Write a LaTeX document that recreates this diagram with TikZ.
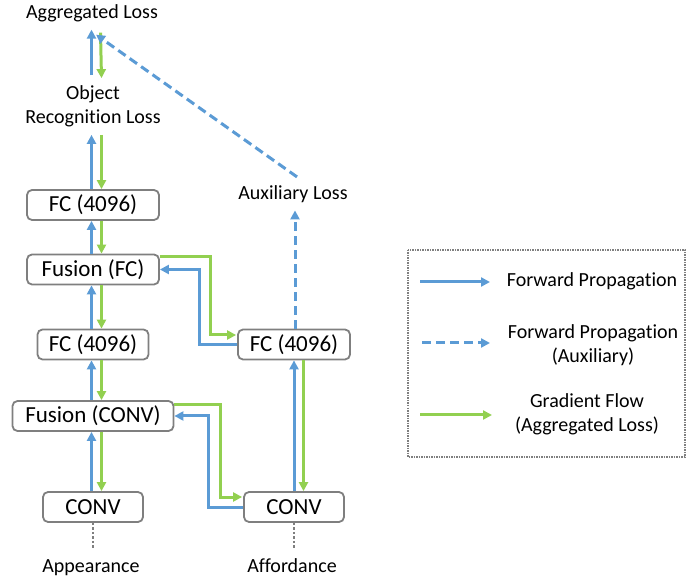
\documentclass[tikz,border=0pt]{standalone}
\usepackage{fontspec}
\setmainfont{Carlito}[Ligatures={NoCommon}]
\usetikzlibrary{arrows.meta,calc}
\definecolor{fwdblue}{HTML}{5B9BD5}
\definecolor{gradgreen}{HTML}{92D050}
\definecolor{boxgray}{HTML}{7F7F7F}

\begin{document}
\begin{tikzpicture}[x=1pt,y=-1pt,
  font=\fontsize{20}{24}\selectfont,
  layer/.style={draw=boxgray, line width=1.8pt, rounded corners=5pt, fill=white,
    inner sep=0pt, minimum height=30pt, font=\fontsize{23}{27}\selectfont},
  lbl/.style={inner sep=0pt, align=center},
  fwd/.style={draw=fwdblue, line width=3pt, -{Triangle[length=9pt,width=9pt]}},
  aux/.style={fwd, dash pattern=on 9pt off 5pt},
  grad/.style={draw=gradgreen, line width=3pt, -{Triangle[length=9pt,width=9pt]}},
  feed/.style={draw=boxgray, line width=2.5pt, dash pattern=on 2.5pt off 2pt},
  legendframe/.style={draw=boxgray, line width=1.5pt, dash pattern=on 1.5pt off 1pt}
]
\useasboundingbox (0,0) rectangle (686,577);

% ---- appearance stream (left) ----
\node[layer, minimum width=132pt] (fcA)   at (93,205)   {FC (4096)};
\node[layer, minimum width=132pt] (fusF)  at (93,269.5) {Fusion (FC)};
\node[layer, minimum width=111pt] (fcB)   at (93,344.5) {FC (4096)};
\node[layer, minimum width=161pt] (fusC)  at (93,416)   {Fusion (CONV)};
\node[layer, minimum width=100pt] (convL) at (93,507)   {CONV};

% ---- affordance stream (right) ----
\node[layer, minimum width=112pt] (fcR)   at (294,344.5) {FC (4096)};
\node[layer, minimum width=100pt] (convR) at (294,507)   {CONV};

% ---- losses and inputs ----
\node[lbl, anchor=base] (agg) at (92,19)  {Aggregated Loss};
\node[lbl] (orl) at (93,106) {Object\\Recognition Loss};
\node[lbl, anchor=base] (auxl) at (293,200) {Auxiliary Loss};
\node[lbl, anchor=base] (app) at (91,572)  {Appearance};
\node[lbl, anchor=base] (aff) at (292,572) {Affordance};

% inputs feeding the CONV layers
\draw[feed] (convL.south) -- ([yshift=10pt]convL.south |- app.north);
\draw[feed] (convR.south) -- ([yshift=10pt]convR.south |- aff.north);

% ---- left column: forward (blue) and gradient (green) ----
\draw[fwd]  ([xshift=-1.5pt]convL.north) -- ([xshift=-1.5pt]convL.north |- fusC.south);
\draw[grad] ([xshift=8.5pt]fusC.south)   -- ([xshift=8.5pt]fusC.south |- convL.north);
\draw[fwd]  ([xshift=-1.5pt]fusC.north)  -- ([xshift=-1.5pt]fusC.north |- fcB.south);
\draw[grad] ([xshift=8.5pt]fcB.south)    -- ([xshift=8.5pt]fcB.south |- fusC.north);
\draw[fwd]  ([xshift=-1.5pt]fcB.north)   -- ([xshift=-1.5pt]fcB.north |- fusF.south);
\draw[grad] ([xshift=8.5pt]fusF.south)   -- ([xshift=8.5pt]fusF.south |- fcB.north);
\draw[fwd]  ([xshift=-1.5pt]fusF.north)  -- ([xshift=-1.5pt]fusF.north |- fcA.south);
\draw[grad] ([xshift=8.5pt]fcA.south)    -- ([xshift=8.5pt]fcA.south |- fusF.north);
\draw[fwd]  ([xshift=-1.5pt]fcA.north)   -- ([xshift=-1.5pt,yshift=-8pt]fcA.north |- orl.south);
\draw[grad] ([xshift=8.5pt,yshift=-8pt]fcA.north |- orl.south) -- ([xshift=8.5pt]fcA.north);
\draw[fwd]  ([xshift=-1.5pt,yshift=10pt]orl.north) -- ([xshift=-0.5pt,yshift=-7pt]agg.south);
\draw[grad] ([xshift=8.5pt,yshift=-10pt]agg.south) -- ([xshift=8.5pt,yshift=7pt]orl.north);

% ---- right column ----
\draw[fwd]  (convR.north) -- (convR.north |- fcR.south);
\draw[grad] ([xshift=9.5pt]fcR.south) -- ([xshift=9.5pt]fcR.south |- convR.north);
\draw[aux]  ([xshift=1pt]fcR.north) -- ([xshift=1pt,yshift=-7pt]fcR.north |- auxl.south);
\draw[aux]  ([xshift=4pt,yshift=9pt]auxl.north) -- ([xshift=4pt,yshift=-12pt]agg.south);

% ---- cross connections ----
\draw[grad] ([yshift=12.5pt]fusF.east) -- ++(51,0) |- ([xshift=-1pt,yshift=9.5pt]fcR.west);
\draw[fwd]  (fcR.west) -- ++(-38,0) |- (fusF.east);
\draw[grad] ([yshift=11pt]fusC.east) -- ++(46,0) |- ([xshift=-1pt,yshift=10pt]convR.west);
\draw[fwd]  (convR.west) -- ++(-35,0) |- (fusC.east);

% ---- legend ----
\draw[legendframe] (408,250) rectangle (685,457);
\coordinate (k1a) at (420,282); \coordinate (k1b) at (490,282);
\coordinate (k2a) at (422,343); \coordinate (k2b) at (490,343);
\coordinate (k3a) at (420,415); \coordinate (k3b) at (492,415);
\draw[fwd]  (k1a) -- (k1b);
\draw[aux]  (k2a) -- (k2b);
\draw[grad] (k3a) -- (k3b);
\node[lbl, anchor=base] (t1) at (592,287) {Forward Propagation};
\node[lbl] (t2) at (593,345) {Forward Propagation\\(Auxiliary)};
\node[lbl] (t3) at (587,414) {Gradient Flow\\(Aggregated Loss)};
\end{tikzpicture}
\end{document}
